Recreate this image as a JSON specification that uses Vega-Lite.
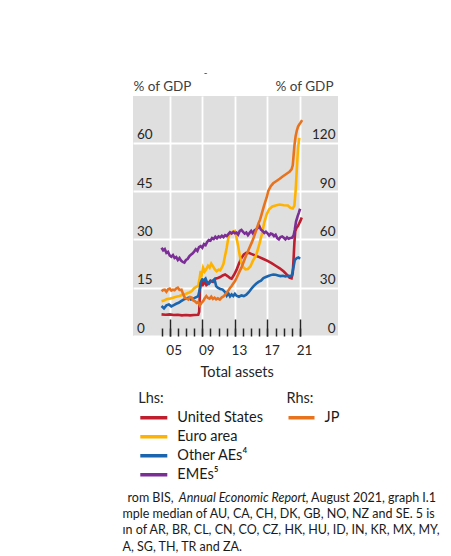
{
  "$schema": "https://vega.github.io/schema/vega-lite/v6.json",
  "width": 205,
  "height": 240,
  "autosize": {"type": "none"},
  "padding": {"left": 133, "top": 96, "right": 113, "bottom": 220},
  "background": "white",
  "config": {
    "font": "Lato",
    "view": {"fill": "#DFDFDF", "stroke": null},
    "axis": {"labelFlush": false, "labelOverlap": false, "labelBound": false, "titleFontWeight": "normal", "domain": false}
  },
  "datasets": {
    "lhs": [
      {"series": "United States", "year": 2004.0, "value": 6.7},
      {"series": "United States", "year": 2004.5, "value": 6.6},
      {"series": "United States", "year": 2005.0, "value": 6.7},
      {"series": "United States", "year": 2005.5, "value": 6.5},
      {"series": "United States", "year": 2006.0, "value": 6.6},
      {"series": "United States", "year": 2006.5, "value": 6.4},
      {"series": "United States", "year": 2007.0, "value": 6.5},
      {"series": "United States", "year": 2007.5, "value": 6.4},
      {"series": "United States", "year": 2008.0, "value": 6.5},
      {"series": "United States", "year": 2008.5, "value": 6.6},
      {"series": "United States", "year": 2008.62, "value": 7.5},
      {"series": "United States", "year": 2008.72, "value": 14.5},
      {"series": "United States", "year": 2008.9, "value": 17.5},
      {"series": "United States", "year": 2009.1, "value": 16.0},
      {"series": "United States", "year": 2009.3, "value": 16.8},
      {"series": "United States", "year": 2009.5, "value": 15.8},
      {"series": "United States", "year": 2009.7, "value": 16.2},
      {"series": "United States", "year": 2010.0, "value": 17.2},
      {"series": "United States", "year": 2010.3, "value": 16.8},
      {"series": "United States", "year": 2010.6, "value": 17.8},
      {"series": "United States", "year": 2010.9, "value": 18.0},
      {"series": "United States", "year": 2011.2, "value": 18.3},
      {"series": "United States", "year": 2011.5, "value": 18.8},
      {"series": "United States", "year": 2011.8, "value": 19.1},
      {"series": "United States", "year": 2012.1, "value": 18.6},
      {"series": "United States", "year": 2012.4, "value": 18.0},
      {"series": "United States", "year": 2012.6, "value": 17.8},
      {"series": "United States", "year": 2012.9, "value": 19.0},
      {"series": "United States", "year": 2013.2, "value": 20.5},
      {"series": "United States", "year": 2013.5, "value": 22.5},
      {"series": "United States", "year": 2013.8, "value": 24.2},
      {"series": "United States", "year": 2014.1, "value": 25.3},
      {"series": "United States", "year": 2014.4, "value": 25.8},
      {"series": "United States", "year": 2014.7, "value": 25.8},
      {"series": "United States", "year": 2015.0, "value": 25.5},
      {"series": "United States", "year": 2015.5, "value": 25.0},
      {"series": "United States", "year": 2016.0, "value": 24.5},
      {"series": "United States", "year": 2016.5, "value": 23.9},
      {"series": "United States", "year": 2017.0, "value": 23.3},
      {"series": "United States", "year": 2017.5, "value": 22.6},
      {"series": "United States", "year": 2018.0, "value": 21.8},
      {"series": "United States", "year": 2018.5, "value": 21.0},
      {"series": "United States", "year": 2019.0, "value": 20.0},
      {"series": "United States", "year": 2019.4, "value": 19.0},
      {"series": "United States", "year": 2019.7, "value": 18.1},
      {"series": "United States", "year": 2019.95, "value": 17.9},
      {"series": "United States", "year": 2020.1, "value": 19.5},
      {"series": "United States", "year": 2020.2, "value": 24.0},
      {"series": "United States", "year": 2020.3, "value": 29.0},
      {"series": "United States", "year": 2020.4, "value": 32.5},
      {"series": "United States", "year": 2020.55, "value": 33.5},
      {"series": "United States", "year": 2020.75, "value": 34.2},
      {"series": "United States", "year": 2020.9, "value": 35.0},
      {"series": "United States", "year": 2021.05, "value": 35.8},
      {"series": "United States", "year": 2021.2, "value": 36.8},

      {"series": "Euro area", "year": 2004.0, "value": 10.8},
      {"series": "Euro area", "year": 2004.3, "value": 11.0},
      {"series": "Euro area", "year": 2004.6, "value": 11.4},
      {"series": "Euro area", "year": 2005.0, "value": 11.6},
      {"series": "Euro area", "year": 2005.4, "value": 11.9},
      {"series": "Euro area", "year": 2005.8, "value": 12.2},
      {"series": "Euro area", "year": 2006.2, "value": 12.4},
      {"series": "Euro area", "year": 2006.6, "value": 12.8},
      {"series": "Euro area", "year": 2007.0, "value": 13.1},
      {"series": "Euro area", "year": 2007.4, "value": 13.5},
      {"series": "Euro area", "year": 2007.7, "value": 13.9},
      {"series": "Euro area", "year": 2008.0, "value": 14.8},
      {"series": "Euro area", "year": 2008.3, "value": 15.3},
      {"series": "Euro area", "year": 2008.5, "value": 15.6},
      {"series": "Euro area", "year": 2008.65, "value": 17.5},
      {"series": "Euro area", "year": 2008.8, "value": 20.2},
      {"series": "Euro area", "year": 2008.95, "value": 19.2},
      {"series": "Euro area", "year": 2009.1, "value": 21.2},
      {"series": "Euro area", "year": 2009.3, "value": 20.0},
      {"series": "Euro area", "year": 2009.5, "value": 20.8},
      {"series": "Euro area", "year": 2009.7, "value": 21.8},
      {"series": "Euro area", "year": 2009.9, "value": 21.2},
      {"series": "Euro area", "year": 2010.1, "value": 22.5},
      {"series": "Euro area", "year": 2010.3, "value": 21.7},
      {"series": "Euro area", "year": 2010.5, "value": 20.8},
      {"series": "Euro area", "year": 2010.75, "value": 20.1},
      {"series": "Euro area", "year": 2011.0, "value": 20.6},
      {"series": "Euro area", "year": 2011.2, "value": 20.4},
      {"series": "Euro area", "year": 2011.45, "value": 21.5},
      {"series": "Euro area", "year": 2011.6, "value": 22.4},
      {"series": "Euro area", "year": 2011.8, "value": 25.0},
      {"series": "Euro area", "year": 2012.0, "value": 27.5},
      {"series": "Euro area", "year": 2012.2, "value": 30.5},
      {"series": "Euro area", "year": 2012.4, "value": 32.0},
      {"series": "Euro area", "year": 2012.7, "value": 32.3},
      {"series": "Euro area", "year": 2013.0, "value": 32.6},
      {"series": "Euro area", "year": 2013.2, "value": 30.5},
      {"series": "Euro area", "year": 2013.4, "value": 27.9},
      {"series": "Euro area", "year": 2013.6, "value": 25.0},
      {"series": "Euro area", "year": 2013.8, "value": 22.8},
      {"series": "Euro area", "year": 2014.0, "value": 21.4},
      {"series": "Euro area", "year": 2014.3, "value": 20.7},
      {"series": "Euro area", "year": 2014.6, "value": 20.8},
      {"series": "Euro area", "year": 2014.9, "value": 21.6},
      {"series": "Euro area", "year": 2015.2, "value": 23.3},
      {"series": "Euro area", "year": 2015.6, "value": 25.0},
      {"series": "Euro area", "year": 2016.0, "value": 28.5},
      {"series": "Euro area", "year": 2016.3, "value": 31.5},
      {"series": "Euro area", "year": 2016.6, "value": 35.2},
      {"series": "Euro area", "year": 2016.9, "value": 37.8},
      {"series": "Euro area", "year": 2017.2, "value": 39.3},
      {"series": "Euro area", "year": 2017.6, "value": 40.2},
      {"series": "Euro area", "year": 2018.0, "value": 40.5},
      {"series": "Euro area", "year": 2018.5, "value": 40.8},
      {"series": "Euro area", "year": 2019.0, "value": 40.6},
      {"series": "Euro area", "year": 2019.5, "value": 40.5},
      {"series": "Euro area", "year": 2019.8, "value": 39.8},
      {"series": "Euro area", "year": 2020.1, "value": 39.6},
      {"series": "Euro area", "year": 2020.3, "value": 40.5},
      {"series": "Euro area", "year": 2020.45, "value": 45.0},
      {"series": "Euro area", "year": 2020.6, "value": 52.0},
      {"series": "Euro area", "year": 2020.75, "value": 58.5},
      {"series": "Euro area", "year": 2020.9, "value": 61.5},

      {"series": "Other AEs⁴", "year": 2004.0, "value": 9.3},
      {"series": "Other AEs⁴", "year": 2004.3, "value": 8.6},
      {"series": "Other AEs⁴", "year": 2004.6, "value": 9.5},
      {"series": "Other AEs⁴", "year": 2004.9, "value": 9.8},
      {"series": "Other AEs⁴", "year": 2005.2, "value": 9.2},
      {"series": "Other AEs⁴", "year": 2005.5, "value": 9.6},
      {"series": "Other AEs⁴", "year": 2005.8, "value": 10.0},
      {"series": "Other AEs⁴", "year": 2006.1, "value": 10.3},
      {"series": "Other AEs⁴", "year": 2006.4, "value": 10.8},
      {"series": "Other AEs⁴", "year": 2006.7, "value": 11.3},
      {"series": "Other AEs⁴", "year": 2007.0, "value": 11.6},
      {"series": "Other AEs⁴", "year": 2007.3, "value": 11.9},
      {"series": "Other AEs⁴", "year": 2007.6, "value": 11.3},
      {"series": "Other AEs⁴", "year": 2007.9, "value": 11.6},
      {"series": "Other AEs⁴", "year": 2008.2, "value": 12.0},
      {"series": "Other AEs⁴", "year": 2008.5, "value": 12.4},
      {"series": "Other AEs⁴", "year": 2008.65, "value": 14.0},
      {"series": "Other AEs⁴", "year": 2008.8, "value": 16.5},
      {"series": "Other AEs⁴", "year": 2009.0, "value": 17.6},
      {"series": "Other AEs⁴", "year": 2009.2, "value": 17.3},
      {"series": "Other AEs⁴", "year": 2009.4, "value": 17.8},
      {"series": "Other AEs⁴", "year": 2009.6, "value": 16.5},
      {"series": "Other AEs⁴", "year": 2009.8, "value": 16.2},
      {"series": "Other AEs⁴", "year": 2010.0, "value": 16.8},
      {"series": "Other AEs⁴", "year": 2010.3, "value": 17.2},
      {"series": "Other AEs⁴", "year": 2010.5, "value": 17.6},
      {"series": "Other AEs⁴", "year": 2010.7, "value": 15.5},
      {"series": "Other AEs⁴", "year": 2010.9, "value": 15.0},
      {"series": "Other AEs⁴", "year": 2011.2, "value": 14.6},
      {"series": "Other AEs⁴", "year": 2011.5, "value": 14.4},
      {"series": "Other AEs⁴", "year": 2011.8, "value": 13.6},
      {"series": "Other AEs⁴", "year": 2012.0, "value": 12.5},
      {"series": "Other AEs⁴", "year": 2012.2, "value": 13.2},
      {"series": "Other AEs⁴", "year": 2012.4, "value": 12.3},
      {"series": "Other AEs⁴", "year": 2012.6, "value": 12.9},
      {"series": "Other AEs⁴", "year": 2012.8, "value": 12.4},
      {"series": "Other AEs⁴", "year": 2013.0, "value": 13.1},
      {"series": "Other AEs⁴", "year": 2013.2, "value": 12.5},
      {"series": "Other AEs⁴", "year": 2013.5, "value": 12.2},
      {"series": "Other AEs⁴", "year": 2013.8, "value": 12.6},
      {"series": "Other AEs⁴", "year": 2014.1, "value": 12.4},
      {"series": "Other AEs⁴", "year": 2014.4, "value": 12.8},
      {"series": "Other AEs⁴", "year": 2014.7, "value": 13.6},
      {"series": "Other AEs⁴", "year": 2015.0, "value": 14.6},
      {"series": "Other AEs⁴", "year": 2015.3, "value": 15.5},
      {"series": "Other AEs⁴", "year": 2015.6, "value": 16.2},
      {"series": "Other AEs⁴", "year": 2015.9, "value": 16.8},
      {"series": "Other AEs⁴", "year": 2016.2, "value": 17.2},
      {"series": "Other AEs⁴", "year": 2016.5, "value": 18.0},
      {"series": "Other AEs⁴", "year": 2016.8, "value": 18.3},
      {"series": "Other AEs⁴", "year": 2017.1, "value": 18.6},
      {"series": "Other AEs⁴", "year": 2017.4, "value": 18.9},
      {"series": "Other AEs⁴", "year": 2017.7, "value": 19.1},
      {"series": "Other AEs⁴", "year": 2018.0, "value": 19.0},
      {"series": "Other AEs⁴", "year": 2018.3, "value": 18.8},
      {"series": "Other AEs⁴", "year": 2018.6, "value": 18.6},
      {"series": "Other AEs⁴", "year": 2018.9, "value": 18.7},
      {"series": "Other AEs⁴", "year": 2019.2, "value": 18.5},
      {"series": "Other AEs⁴", "year": 2019.5, "value": 18.7},
      {"series": "Other AEs⁴", "year": 2019.8, "value": 18.6},
      {"series": "Other AEs⁴", "year": 2020.0, "value": 18.9},
      {"series": "Other AEs⁴", "year": 2020.2, "value": 21.5},
      {"series": "Other AEs⁴", "year": 2020.35, "value": 23.6},
      {"series": "Other AEs⁴", "year": 2020.6, "value": 24.2},
      {"series": "Other AEs⁴", "year": 2020.8, "value": 24.4},
      {"series": "Other AEs⁴", "year": 2021.0, "value": 24.0},

      {"series": "EMEs⁵", "year": 2004.0, "value": 27.4},
      {"series": "EMEs⁵", "year": 2004.2, "value": 26.6},
      {"series": "EMEs⁵", "year": 2004.4, "value": 27.0},
      {"series": "EMEs⁵", "year": 2004.6, "value": 25.8},
      {"series": "EMEs⁵", "year": 2004.8, "value": 26.1},
      {"series": "EMEs⁵", "year": 2005.0, "value": 25.0},
      {"series": "EMEs⁵", "year": 2005.2, "value": 24.6},
      {"series": "EMEs⁵", "year": 2005.4, "value": 25.1},
      {"series": "EMEs⁵", "year": 2005.6, "value": 24.2},
      {"series": "EMEs⁵", "year": 2005.8, "value": 24.5},
      {"series": "EMEs⁵", "year": 2006.0, "value": 23.6},
      {"series": "EMEs⁵", "year": 2006.2, "value": 24.2},
      {"series": "EMEs⁵", "year": 2006.4, "value": 23.4},
      {"series": "EMEs⁵", "year": 2006.6, "value": 23.0},
      {"series": "EMEs⁵", "year": 2006.8, "value": 22.8},
      {"series": "EMEs⁵", "year": 2007.0, "value": 23.6},
      {"series": "EMEs⁵", "year": 2007.2, "value": 23.9},
      {"series": "EMEs⁵", "year": 2007.4, "value": 24.7},
      {"series": "EMEs⁵", "year": 2007.6, "value": 25.2},
      {"series": "EMEs⁵", "year": 2007.8, "value": 25.6},
      {"series": "EMEs⁵", "year": 2008.0, "value": 26.2},
      {"series": "EMEs⁵", "year": 2008.2, "value": 26.9},
      {"series": "EMEs⁵", "year": 2008.4, "value": 26.4},
      {"series": "EMEs⁵", "year": 2008.6, "value": 27.6},
      {"series": "EMEs⁵", "year": 2008.8, "value": 27.9},
      {"series": "EMEs⁵", "year": 2009.0, "value": 27.4},
      {"series": "EMEs⁵", "year": 2009.2, "value": 28.5},
      {"series": "EMEs⁵", "year": 2009.4, "value": 28.2},
      {"series": "EMEs⁵", "year": 2009.6, "value": 29.2},
      {"series": "EMEs⁵", "year": 2009.8, "value": 29.8},
      {"series": "EMEs⁵", "year": 2010.0, "value": 29.6},
      {"series": "EMEs⁵", "year": 2010.2, "value": 30.4},
      {"series": "EMEs⁵", "year": 2010.4, "value": 30.1},
      {"series": "EMEs⁵", "year": 2010.6, "value": 30.8},
      {"series": "EMEs⁵", "year": 2010.8, "value": 30.3},
      {"series": "EMEs⁵", "year": 2011.0, "value": 30.9},
      {"series": "EMEs⁵", "year": 2011.2, "value": 30.6},
      {"series": "EMEs⁵", "year": 2011.4, "value": 31.1},
      {"series": "EMEs⁵", "year": 2011.6, "value": 30.7},
      {"series": "EMEs⁵", "year": 2011.8, "value": 31.3},
      {"series": "EMEs⁵", "year": 2012.0, "value": 31.0},
      {"series": "EMEs⁵", "year": 2012.2, "value": 31.6},
      {"series": "EMEs⁵", "year": 2012.4, "value": 32.2},
      {"series": "EMEs⁵", "year": 2012.6, "value": 31.8},
      {"series": "EMEs⁵", "year": 2012.8, "value": 32.3},
      {"series": "EMEs⁵", "year": 2013.0, "value": 31.9},
      {"series": "EMEs⁵", "year": 2013.2, "value": 32.1},
      {"series": "EMEs⁵", "year": 2013.4, "value": 31.5},
      {"series": "EMEs⁵", "year": 2013.6, "value": 32.6},
      {"series": "EMEs⁵", "year": 2013.8, "value": 32.9},
      {"series": "EMEs⁵", "year": 2014.0, "value": 32.3},
      {"series": "EMEs⁵", "year": 2014.2, "value": 31.8},
      {"series": "EMEs⁵", "year": 2014.4, "value": 32.1},
      {"series": "EMEs⁵", "year": 2014.6, "value": 31.3},
      {"series": "EMEs⁵", "year": 2014.8, "value": 32.0},
      {"series": "EMEs⁵", "year": 2015.0, "value": 32.6},
      {"series": "EMEs⁵", "year": 2015.2, "value": 31.9},
      {"series": "EMEs⁵", "year": 2015.4, "value": 32.8},
      {"series": "EMEs⁵", "year": 2015.6, "value": 33.1},
      {"series": "EMEs⁵", "year": 2015.8, "value": 33.5},
      {"series": "EMEs⁵", "year": 2016.0, "value": 34.1},
      {"series": "EMEs⁵", "year": 2016.2, "value": 33.0},
      {"series": "EMEs⁵", "year": 2016.4, "value": 32.6},
      {"series": "EMEs⁵", "year": 2016.6, "value": 32.0},
      {"series": "EMEs⁵", "year": 2016.8, "value": 32.4},
      {"series": "EMEs⁵", "year": 2017.0, "value": 31.9},
      {"series": "EMEs⁵", "year": 2017.2, "value": 31.2},
      {"series": "EMEs⁵", "year": 2017.4, "value": 31.8},
      {"series": "EMEs⁵", "year": 2017.6, "value": 31.6},
      {"series": "EMEs⁵", "year": 2017.8, "value": 31.0},
      {"series": "EMEs⁵", "year": 2018.0, "value": 31.4},
      {"series": "EMEs⁵", "year": 2018.2, "value": 30.4},
      {"series": "EMEs⁵", "year": 2018.4, "value": 30.0},
      {"series": "EMEs⁵", "year": 2018.6, "value": 30.7},
      {"series": "EMEs⁵", "year": 2018.8, "value": 30.9},
      {"series": "EMEs⁵", "year": 2019.0, "value": 30.5},
      {"series": "EMEs⁵", "year": 2019.2, "value": 30.0},
      {"series": "EMEs⁵", "year": 2019.4, "value": 30.6},
      {"series": "EMEs⁵", "year": 2019.6, "value": 30.2},
      {"series": "EMEs⁵", "year": 2019.8, "value": 30.4},
      {"series": "EMEs⁵", "year": 2020.0, "value": 30.5},
      {"series": "EMEs⁵", "year": 2020.2, "value": 31.2},
      {"series": "EMEs⁵", "year": 2020.35, "value": 33.0},
      {"series": "EMEs⁵", "year": 2020.5, "value": 35.5},
      {"series": "EMEs⁵", "year": 2020.7, "value": 37.2},
      {"series": "EMEs⁵", "year": 2020.85, "value": 38.3},
      {"series": "EMEs⁵", "year": 2021.0, "value": 39.5}
    ],
    "jp": [
      {"series": "JP", "year": 2004.0, "value": 27.8},
      {"series": "JP", "year": 2004.2, "value": 28.6},
      {"series": "JP", "year": 2004.4, "value": 28.8},
      {"series": "JP", "year": 2004.6, "value": 27.5},
      {"series": "JP", "year": 2004.8, "value": 29.0},
      {"series": "JP", "year": 2005.0, "value": 29.4},
      {"series": "JP", "year": 2005.2, "value": 28.2},
      {"series": "JP", "year": 2005.4, "value": 28.8},
      {"series": "JP", "year": 2005.6, "value": 28.4},
      {"series": "JP", "year": 2005.8, "value": 29.5},
      {"series": "JP", "year": 2006.0, "value": 30.0},
      {"series": "JP", "year": 2006.2, "value": 28.6},
      {"series": "JP", "year": 2006.45, "value": 28.8},
      {"series": "JP", "year": 2006.65, "value": 26.0},
      {"series": "JP", "year": 2006.85, "value": 23.8},
      {"series": "JP", "year": 2007.1, "value": 23.2},
      {"series": "JP", "year": 2007.3, "value": 22.6},
      {"series": "JP", "year": 2007.5, "value": 24.2},
      {"series": "JP", "year": 2007.7, "value": 23.8},
      {"series": "JP", "year": 2007.9, "value": 22.0},
      {"series": "JP", "year": 2008.1, "value": 21.6},
      {"series": "JP", "year": 2008.3, "value": 20.6},
      {"series": "JP", "year": 2008.5, "value": 21.2},
      {"series": "JP", "year": 2008.7, "value": 19.0},
      {"series": "JP", "year": 2008.9, "value": 20.5},
      {"series": "JP", "year": 2009.1, "value": 21.6},
      {"series": "JP", "year": 2009.3, "value": 23.4},
      {"series": "JP", "year": 2009.5, "value": 24.8},
      {"series": "JP", "year": 2009.7, "value": 23.6},
      {"series": "JP", "year": 2009.9, "value": 23.2},
      {"series": "JP", "year": 2010.1, "value": 24.4},
      {"series": "JP", "year": 2010.3, "value": 23.0},
      {"series": "JP", "year": 2010.5, "value": 23.8},
      {"series": "JP", "year": 2010.7, "value": 22.8},
      {"series": "JP", "year": 2010.9, "value": 23.4},
      {"series": "JP", "year": 2011.15, "value": 22.6},
      {"series": "JP", "year": 2011.4, "value": 24.0},
      {"series": "JP", "year": 2011.6, "value": 24.6},
      {"series": "JP", "year": 2011.8, "value": 25.6},
      {"series": "JP", "year": 2012.0, "value": 27.0},
      {"series": "JP", "year": 2012.2, "value": 28.2},
      {"series": "JP", "year": 2012.4, "value": 29.8},
      {"series": "JP", "year": 2012.6, "value": 31.0},
      {"series": "JP", "year": 2012.8, "value": 32.6},
      {"series": "JP", "year": 2013.0, "value": 34.0},
      {"series": "JP", "year": 2013.2, "value": 36.0},
      {"series": "JP", "year": 2013.4, "value": 38.2},
      {"series": "JP", "year": 2013.6, "value": 40.4},
      {"series": "JP", "year": 2013.8, "value": 42.4},
      {"series": "JP", "year": 2014.0, "value": 45.0},
      {"series": "JP", "year": 2014.2, "value": 47.6},
      {"series": "JP", "year": 2014.4, "value": 50.2},
      {"series": "JP", "year": 2014.6, "value": 52.6},
      {"series": "JP", "year": 2014.8, "value": 55.0},
      {"series": "JP", "year": 2015.05, "value": 57.8},
      {"series": "JP", "year": 2015.3, "value": 61.0},
      {"series": "JP", "year": 2015.65, "value": 66.2},
      {"series": "JP", "year": 2015.9, "value": 70.0},
      {"series": "JP", "year": 2016.1, "value": 72.4},
      {"series": "JP", "year": 2016.3, "value": 76.0},
      {"series": "JP", "year": 2016.5, "value": 79.6},
      {"series": "JP", "year": 2016.7, "value": 83.0},
      {"series": "JP", "year": 2016.9, "value": 86.0},
      {"series": "JP", "year": 2017.1, "value": 90.0},
      {"series": "JP", "year": 2017.4, "value": 93.0},
      {"series": "JP", "year": 2017.7, "value": 94.8},
      {"series": "JP", "year": 2018.1, "value": 96.2},
      {"series": "JP", "year": 2018.5, "value": 97.6},
      {"series": "JP", "year": 2018.9, "value": 99.2},
      {"series": "JP", "year": 2019.3, "value": 100.6},
      {"series": "JP", "year": 2019.7, "value": 102.0},
      {"series": "JP", "year": 2019.95, "value": 103.4},
      {"series": "JP", "year": 2020.1, "value": 106.0},
      {"series": "JP", "year": 2020.2, "value": 112.0},
      {"series": "JP", "year": 2020.3, "value": 118.0},
      {"series": "JP", "year": 2020.45, "value": 124.0},
      {"series": "JP", "year": 2020.6, "value": 127.6},
      {"series": "JP", "year": 2020.75, "value": 130.0},
      {"series": "JP", "year": 2020.9, "value": 131.4},
      {"series": "JP", "year": 2021.05, "value": 132.4},
      {"series": "JP", "year": 2021.25, "value": 134.0}
    ]
  },
  "resolve": {
    "scale": {"y": "independent", "color": "independent"},
    "axis": {"x": "independent", "y": "independent"}
  },
  "layer": [
    {
      "data": {"name": "lhs"},
      "mark": {"type": "line", "strokeWidth": 2.6},
      "encoding": {
        "x": {
          "field": "year", "type": "quantitative",
          "scale": {"domain": [2000.5, 2025.65], "nice": false, "zero": false},
          "axis": {
            "orient": "bottom", "values": [2005, 2009, 2013, 2017, 2021],
            "grid": true, "gridColor": "white", "gridWidth": 1.8, "gridOpacity": 1,
            "ticks": false, "domain": false, "labels": true,
            "labelExpr": "substring(toString(datum.value), 2, 4)",
            "labelFontSize": 13.5, "labelColor": "#262626", "labelPadding": 7, "labelOffset": 4,
            "labelBaseline": "top",
            "title": "Total assets", "titleFontSize": 14.5, "titleColor": "#262626",
            "titleX": 103.7, "titleY": 40.7, "titleAlign": "center", "titleBaseline": "alphabetic", "titleAngle": 0
          }
        },
        "y": {
          "field": "value", "type": "quantitative",
          "scale": {"domain": [0, 74.5], "nice": false},
          "axis": {
            "orient": "left", "values": [0, 15, 30, 45, 60],
            "grid": true, "gridColor": "white", "gridWidth": 1.8, "gridOpacity": 1,
            "ticks": false, "domain": false,
            "labelAlign": "left", "labelPadding": -3.5, "labelBaseline": "alphabetic", "labelOffset": -4,
            "labelFontSize": 13.5, "labelColor": "#262626",
            "title": "% of GDP", "titleAngle": 0, "titleAlign": "left", "titleBaseline": "alphabetic",
            "titleX": 0, "titleY": -6, "titleFontSize": 13.5, "titleColor": "#404040"
          }
        },
        "color": {
          "field": "series", "type": "nominal",
          "scale": {"domain": ["United States", "Euro area", "Other AEs⁴", "EMEs⁵"], "range": ["#BE1E2D", "#FFB300", "#1B64AE", "#7B2E95"]},
          "legend": {
            "title": "Lhs:", "orient": "none", "legendX": 5.3, "legendY": 296, "direction": "vertical",
            "symbolType": "stroke", "symbolSize": 729, "symbolStrokeWidth": 3.5, "clipHeight": 18.3,
            "rowPadding": 0, "labelFontSize": 14.5, "labelColor": "#1a1a1a", "labelOffset": 8, "labelLimit": 0,
            "titleFontSize": 14.5, "titleFontWeight": "normal", "titleColor": "#262626", "titlePadding": 2, "padding": 0
          }
        }
      }
    },
    {
      "data": {"name": "jp"},
      "mark": {"type": "line", "strokeWidth": 2.6},
      "encoding": {
        "x": {
          "field": "year", "type": "quantitative",
          "scale": {"domain": [2000.5, 2025.65], "nice": false, "zero": false},
          "axis": {
            "orient": "bottom", "values": [2004, 2005, 2006, 2007, 2008, 2009, 2010, 2011, 2012, 2013, 2014, 2015, 2016, 2017, 2018, 2019, 2020, 2021],
            "grid": false, "ticks": true, "tickSize": -8, "tickColor": "#262626", "tickWidth": 1.5,
            "labels": false, "domain": false,
            "title": ["mple median of AU, CA, CH, DK, GB, NO, NZ and SE. 5 is", "ın of AR, BR, CL, CN, CO, CZ, HK, HU, ID, IN, KR, MX, MY,", "A, SG, TH, TR and ZA."],
            "titleX": -11, "titleY": 181.3, "titleAlign": "left", "titleBaseline": "alphabetic", "titleAngle": 0,
            "titleFontSize": 12.5, "titleColor": "#1a1a1a", "titleLineHeight": 16.5
          }
        },
        "y": {
          "field": "value", "type": "quantitative",
          "scale": {"domain": [0, 149], "nice": false},
          "axis": {
            "orient": "right", "values": [0, 30, 60, 90, 120],
            "grid": false, "ticks": false, "domain": false,
            "labelAlign": "right", "labelPadding": -3, "labelBaseline": "alphabetic", "labelOffset": -4,
            "labelFontSize": 13.5, "labelColor": "#262626",
            "title": "% of GDP", "titleAngle": 0, "titleAlign": "right", "titleBaseline": "alphabetic",
            "titleX": -5, "titleY": -6, "titleFontSize": 13.5, "titleColor": "#404040"
          }
        },
        "color": {
          "field": "series", "type": "nominal",
          "scale": {"domain": ["JP"], "range": ["#E8731E"]},
          "legend": {
            "title": "Rhs:", "orient": "none", "legendX": 153.5, "legendY": 296, "direction": "vertical",
            "symbolType": "stroke", "symbolSize": 676, "symbolStrokeWidth": 3.5, "clipHeight": 18.3,
            "rowPadding": 0, "labelFontSize": 14.5, "labelColor": "#1a1a1a", "labelOffset": 8, "labelLimit": 0,
            "titleFontSize": 14.5, "titleFontWeight": "normal", "titleColor": "#262626", "titlePadding": 2, "padding": 0
          }
        }
      }
    },
    {
      "data": {"name": "jp"},
      "mark": {"type": "point", "opacity": 0},
      "encoding": {
        "x": {
          "field": "year", "type": "quantitative",
          "scale": {"domain": [2000.5, 2025.65], "nice": false, "zero": false},
          "axis": {
            "orient": "bottom", "values": [2005, 2009, 2013, 2017, 2021],
            "grid": false, "ticks": true, "tickSize": -17, "tickColor": "#262626", "tickWidth": 1.5,
            "labels": false, "domain": false,
            "title": "rom BIS,", "titleX": -6, "titleY": 165, "titleAlign": "left", "titleBaseline": "alphabetic", "titleAngle": 0,
            "titleFontSize": 12.5, "titleColor": "#1a1a1a"
          }
        }
      }
    },
    {
      "data": {"name": "jp"},
      "mark": {"type": "point", "opacity": 0},
      "encoding": {
        "x": {
          "field": "year", "type": "quantitative",
          "scale": {"domain": [2000.5, 2025.65], "nice": false, "zero": false},
          "axis": {
            "orient": "bottom", "values": [2005],
            "grid": false, "ticks": false, "labels": false, "domain": false,
            "title": "Annual Economic Report", "titleX": 45.3, "titleY": 165, "titleAlign": "left", "titleBaseline": "alphabetic", "titleAngle": 0,
            "titleFontSize": 12.5, "titleFontStyle": "italic", "titleColor": "#1a1a1a"
          }
        }
      }
    },
    {
      "data": {"name": "jp"},
      "mark": {"type": "point", "opacity": 0},
      "encoding": {
        "x": {
          "field": "year", "type": "quantitative",
          "scale": {"domain": [2000.5, 2025.65], "nice": false, "zero": false},
          "axis": {
            "orient": "bottom", "values": [2005],
            "grid": false, "ticks": false, "labels": false, "domain": false,
            "title": ", August 2021, graph I.1", "titleX": 172, "titleY": 165, "titleAlign": "left", "titleBaseline": "alphabetic", "titleAngle": 0,
            "titleFontSize": 12.5, "titleColor": "#1a1a1a"
          }
        }
      }
    },
    {
      "data": {"name": "jp"},
      "mark": {"type": "point", "opacity": 0},
      "encoding": {
        "x": {
          "field": "year", "type": "quantitative",
          "scale": {"domain": [2000.5, 2025.65], "nice": false, "zero": false},
          "axis": {
            "orient": "bottom", "values": [2005],
            "grid": false, "ticks": false, "labels": false, "domain": false,
            "title": "-", "titleX": 72, "titleY": -264, "titleAlign": "center", "titleBaseline": "middle", "titleAngle": 0,
            "titleFontSize": 10, "titleColor": "#333333"
          }
        }
      }
    }
  ]
}
